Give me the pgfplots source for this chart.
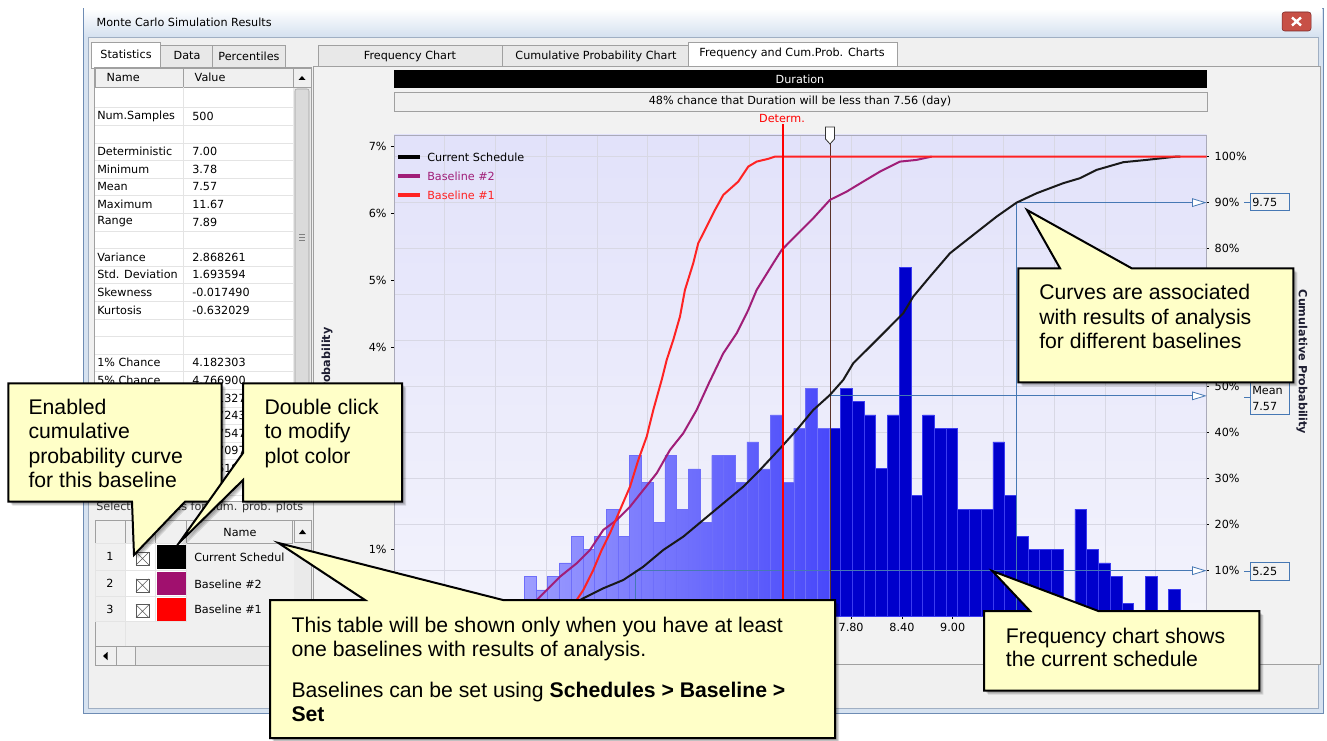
\documentclass[border=0pt]{standalone}
\usepackage{fontspec}
\setmainfont{Liberation Sans}
\newfontfamily\ui{DejaVu Sans}
\usepackage{pgfplots}
\pgfplotsset{compat=1.18}
\usetikzlibrary{arrows.meta}

\definecolor{frameblue}{RGB}{214,226,240}
\definecolor{framedge}{RGB}{110,140,180}
\definecolor{framein}{RGB}{160,175,195}
\definecolor{closered}{RGB}{199,80,70}
\definecolor{closeedge}{RGB}{120,40,40}
\definecolor{winbg}{RGB}{240,240,240}
\definecolor{tabbg}{RGB}{232,232,232}
\definecolor{tabedge}{RGB}{160,160,160}
\definecolor{hdrbg}{RGB}{240,240,240}
\definecolor{cellline}{RGB}{228,228,228}
\definecolor{scrolltrack}{RGB}{234,234,234}
\definecolor{thumbc}{RGB}{218,218,218}
\definecolor{panelbg}{RGB}{242,242,242}
\definecolor{callout}{RGB}{255,255,200}
\definecolor{purp}{RGB}{160,30,120}
\definecolor{swpurp}{RGB}{160,16,110}
\definecolor{redc}{RGB}{255,35,35}
\definecolor{detred}{RGB}{255,0,0}
\definecolor{markblue}{RGB}{70,120,180}
\definecolor{gridc}{RGB}{216,216,228}
\definecolor{darkbar}{RGB}{0,0,204}
\definecolor{darkbaredge}{RGB}{60,60,240}
\definecolor{lightbarL}{RGB}{160,160,255}
\definecolor{lightbarR}{RGB}{72,72,250}
\definecolor{lightbaredge}{RGB}{110,110,250}
\definecolor{bgtop}{RGB}{226,226,250}
\definecolor{bgbot}{RGB}{243,243,252}
\definecolor{brownl}{RGB}{90,50,40}
\definecolor{axisc}{RGB}{170,170,185}
\definecolor{textdark}{RGB}{30,30,50}

\newcommand\uis{\ui\fontsize{8.4pt}{10pt}\selectfont}
\newcommand\uib{\ui\bfseries\fontsize{8.4pt}{10pt}\selectfont}
\newcommand\cof{\fontsize{15.9pt}{18pt}\selectfont}

\newcommand\callout[1]{%
 \fill[black,opacity=0.12,shift={(4,4)}] #1;
 \fill[black,opacity=0.12,shift={(3,3)}] #1;
 \fill[black,opacity=0.12,shift={(2,2)}] #1;
 \filldraw[fill=callout, draw=black, line width=1.5pt, line join=miter, miter limit=25] #1;}

\pgfplotsset{myax/.style={at={(plotSW)}, anchor=south west, scale only axis,
  width=609.5pt, height=361.3pt, xmin=2.4, xmax=12}}

\begin{document}
\begin{tikzpicture}[x=0.75pt,y=-0.75pt]
\useasboundingbox (0,0) rectangle (1327,741);
\fill[white] (0,0) rectangle (1327,741);
% ---------- window ----------
\filldraw[fill=frameblue, draw=framedge] (83,8) rectangle (1323,713);
\shade[top color=white, bottom color=frameblue] (84,9) rectangle (1322,36);
\node[anchor=west, font=\uis] at (92,22) {Monte Carlo Simulation Results};
\filldraw[fill=closered, draw=closeedge, rounded corners=2pt] (1282,12) rectangle (1311,31);
\draw[white, line width=1.8pt] (1292,17.5) -- (1301,25.5) (1301,17.5) -- (1292,25.5);
\filldraw[fill=winbg, draw=framein] (88,37) rectangle (1318,708);
% ---------- left tabs ----------
\filldraw[fill=tabbg, draw=tabedge] (160,45) rectangle (212,67);
\filldraw[fill=tabbg, draw=tabedge] (212,45) rectangle (285,67);
\filldraw[fill=white, draw=tabedge] (91,42) rectangle (160,68);
\node[font=\uis] at (126,54) {Statistics};
\node[font=\uis] at (187,56) {Data};
\node[font=\uis] at (249,56) {Percentiles};
% ---------- statistics table ----------
\filldraw[fill=white, draw=tabedge] (94,67) rectangle (311,501);
\filldraw[fill=hdrbg, draw=tabedge] (95,68) rectangle (183,87);
\filldraw[fill=hdrbg, draw=tabedge] (183,68) rectangle (293,87);
\node[font=\uis, anchor=west] at (102,77.5) {Name};
\node[font=\uis, anchor=west] at (190,77.5) {Value};
\foreach \i in {0,...,22} \draw[cellline] (95,{90+17.6*(\i+1)}) -- (293,{90+17.6*(\i+1)});
\draw[cellline] (183,87) -- (183,501);
\foreach \i/\n/\v in {1/Num.Samples/500, 3/Deterministic/7.00, 4/Minimum/3.78, 5/Mean/7.57,
  6/Maximum/11.67, 7/Range/7.89, 9/Variance/2.868261, 10/Std. Deviation/1.693594,
  11/Skewness/-0.017490, 12/Kurtosis/-0.632029, 15/1\% Chance/4.182303,
  16/5\% Chance/4.766900} {
  \node[font=\uis, anchor=west, inner sep=0pt] at (97,{98.8+17.6*\i}) {\n};
  \node[font=\uis, anchor=west, inner sep=0pt] at (192,{98.8+17.6*\i}) {\v};
}
% values of the rows that the callouts cover (their last digits show between them)
\foreach \i/\v in {17/5.251327, 18/6.077243, 19/6.767547, 20/7.257097, 21/7.686193} {
  \node[font=\uis, anchor=west, inner sep=0pt] at (192,{98.8+17.6*\i}) {\v};
}
\fill[scrolltrack] (293,68) rectangle (311,501);
\filldraw[fill=hdrbg, draw=tabedge] (293,68) rectangle (311,87);
\fill[black] (298.5,80) -- (305.5,80) -- (302,76) -- cycle;
\filldraw[fill=thumbc, draw=tabedge, rounded corners=1.5pt] (295,89) rectangle (309,385);
\foreach \yy in {234,237,240} \draw[gray] (299,\yy) -- (305,\yy);
% ---------- baselines table ----------
\node[font=\uis, anchor=west, inner sep=0pt, text=black!80] at (96,507) {Select baselines for cum. prob. plots};
\filldraw[fill=hdrbg, draw=tabedge] (95,520) rectangle (311,665);
\foreach \a/\b in {95/125.7, 125.7/155.7, 155.7/186.7, 186.7/292}
  \filldraw[fill=hdrbg, draw=tabedge] (\a,520) rectangle (\b,543);
\node[font=\uis] at (240,532) {Name};
\filldraw[fill=hdrbg, draw=tabedge] (294,520) rectangle (311,542);
\fill[black] (299,534) -- (306,534) -- (302.5,529.5) -- cycle;
\fill[scrolltrack] (294,543) rectangle (311,646.7);
\foreach \ya/\yb/\n/\c/\t in {543/570/1/black/Current Schedul, 570.7/596/2/swpurp/Baseline \#2, 596.7/621.7/3/red/Baseline \#1} {
  \filldraw[fill=hdrbg, draw=cellline] (95,\ya) rectangle (125.7,\yb);
  \filldraw[fill=white, draw=cellline] (125.7,\ya) rectangle (155.7,\yb);
  \filldraw[fill=white, draw=cellline] (155.7,\ya) rectangle (186.7,\yb);
  \fill[\c] (157.3,\ya+1.5) rectangle (186,\yb-1);
  \node[font=\uis] at (110,{(\ya+\yb)/2}) {\n};
  \node[font=\uis, anchor=west, inner sep=0pt] at (194,{(\ya+\yb)/2+0.5}) {\t};
  \draw[gray!70!black] (136,{(\ya+\yb)/2-4.5}) rectangle (149,{(\ya+\yb)/2+8.5});
  \draw[gray!70!black] (136,{(\ya+\yb)/2-4.5}) -- (149,{(\ya+\yb)/2+8.5}) (149,{(\ya+\yb)/2-4.5}) -- (136,{(\ya+\yb)/2+8.5});
}
\draw[cellline] (125.7,621.7) -- (125.7,646.7);
\filldraw[fill=scrolltrack, draw=tabedge] (95,646.7) rectangle (311,665);
\filldraw[fill=hdrbg, draw=tabedge] (95,646.7) rectangle (116.7,665);
\fill[black] (103,656) -- (107.5,652) -- (107.5,660) -- cycle;
\filldraw[fill=hdrbg, draw=tabedge] (116.7,646.7) rectangle (135,665);
% ---------- right panel ----------
\filldraw[fill=panelbg, draw=tabedge] (313,66) rectangle (1320,664);
\filldraw[fill=tabbg, draw=tabedge] (318,45) rectangle (502,66);
\filldraw[fill=tabbg, draw=tabedge] (502,45) rectangle (688,66);
\filldraw[fill=white, draw=tabedge] (688,42) rectangle (897,66);
\node[font=\uis] at (410,56) {Frequency Chart};
\node[font=\uis] at (596,56) {Cumulative Probability Chart};
\node[font=\uis] at (792,53) {Frequency and Cum.Prob. Charts};
\fill[black] (394,70) rectangle (1207,88);
\node[font=\uis, text=white] at (800,79) {Duration};
\filldraw[fill=winbg, draw=tabedge] (394,92) rectangle (1207,111);
\node[font=\uis] at (800,101.5) {48\% chance that Duration will be less than 7.56 (day)};
\node[font=\uis, text=detred] at (782,118) {Determ.};
% ---------- chart ----------
\coordinate (plotSW) at (394,616.7);
\begin{axis}[myax, ymin=0, ymax=104.7,
  axis background/.style={top color=bgtop, bottom color=bgbot},
  xtick={3.0,3.6,4.2,4.8,5.4,6.0,6.6,7.2,7.8,8.4,9.0,9.6,10.2,10.8,11.4},
  xticklabels={,,,,,,,,7.80,8.40,9.00,,,,},
  ytick={0,10,...,100},
  yticklabels={0\%,10\%,20\%,30\%,40\%,50\%,,,80\%,90\%,100\%},
  xtick pos=bottom, ytick pos=right, yticklabel pos=right,
  tick align=outside, major tick length=1.5pt,
  grid=major, major grid style={draw=gridc, line width=0.75pt},
  axis line style={draw=axisc},
  every tick/.style={black},
  tick label style={font=\uis},
  yticklabel style={xshift=1pt}]
\end{axis}
\begin{axis}[myax, ymin=0, ymax=7.164,
  xtick=\empty, ytick={1,2,...,7},
  yticklabels={1\%,,,4\%,5\%,6\%,7\%},
  ytick pos=left, tick align=outside, major tick length=2pt,
  axis line style={draw=none}, every tick/.style={black},
  tick label style={font=\uis}]
\addplot[ybar interval, left color=lightbarL, right color=lightbarR, draw=lightbaredge, line width=0.3pt]
 coordinates {(3.800,0.2) (3.938,0.6) (4.077,0.4) (4.215,0.6) (4.354,0.8) (4.492,1.2)
 (4.631,1.0) (4.769,1.2) (4.907,1.6) (5.046,1.2) (5.184,2.4) (5.323,2.0) (5.461,1.4)
 (5.599,2.4) (5.738,1.6) (5.876,2.2) (6.015,1.4) (6.153,2.4) (6.292,2.4) (6.430,2.0)
 (6.568,2.6) (6.707,2.2) (6.845,3.0) (6.984,2.0) (7.122,2.8) (7.261,3.4) (7.399,2.8)
 (7.537,2.8) (7.56,0)};
\addplot[ybar interval, fill=darkbar, draw=darkbaredge, line width=0.5pt]
 coordinates {(7.56,2.8) (7.676,3.4) (7.814,3.2) (7.953,3.0) (8.091,2.2) (8.229,3.0)
 (8.368,5.2) (8.506,1.8) (8.645,3.0) (8.783,2.8) (8.922,2.8) (9.060,1.6) (9.198,1.6)
 (9.337,1.6) (9.475,2.6) (9.614,1.8) (9.752,1.2) (9.890,1.0) (10.029,1.0) (10.167,1.0)
 (10.306,0.2) (10.444,1.6) (10.583,1.0) (10.721,0.8) (10.859,0.6) (10.998,0.2)
 (11.136,0) (11.275,0.6) (11.413,0) (11.552,0.4) (11.690,0)};
\end{axis}
\begin{axis}[myax, ymin=0, ymax=104.7, hide axis, clip=false]
\addplot[draw=markblue, line width=0.6pt, -{Triangle[open, fill=white, length=11pt, width=6.5pt]}]
 coordinates {(9.75,0) (9.75,90) (12,90)};
\addplot[draw=markblue, line width=0.6pt, -{Triangle[open, fill=white, length=11pt, width=6.5pt]}]
 coordinates {(7.56,48) (12,48)};
\addplot[draw=markblue, line width=0.6pt, -{Triangle[open, fill=white, length=11pt, width=6.5pt]}]
 coordinates {(5.25,0) (5.25,10) (12,10)};
\addplot[draw=brownl, line width=0.75pt] coordinates {(7.56,0) (7.56,104.7)};
\addplot[draw=black!90, line width=1.5pt, line join=round] coordinates {
 (3.782,0) (4.125,1.46) (4.597,3.63) (4.872,6.17) (5.109,7.98) (5.345,10.87) (5.581,14.50)
 (5.817,17.39) (6.053,21.02) (6.290,24.65) (6.526,28.26) (6.723,31.89) (6.980,36.96)
 (7.157,40.59) (7.353,44.93) (7.550,48.20) (7.707,51.46) (7.825,55.09) (8.023,58.70)
 (8.220,62.33) (8.416,65.96) (8.534,69.57) (8.731,73.91) (8.968,79.00) (9.243,82.98)
 (9.519,86.96) (9.755,90.00) (9.992,92.04) (10.306,94.22) (10.503,95.30) (10.700,97.11)
 (11.015,98.78) (11.291,99.28) (11.645,100) (11.69,100)};
\addplot[draw=purp, line width=1.5pt, line join=round] coordinates {
 (3.829,0) (3.959,1.67) (4.086,3.63) (4.204,5.80) (4.361,8.70) (4.558,11.61) (4.715,14.50)
 (4.872,18.85) (5.031,21.02) (5.188,23.91) (5.345,27.54) (5.503,31.17) (5.660,36.24)
 (5.817,39.87) (5.975,44.93) (6.121,50.80) (6.290,57.26) (6.448,61.61) (6.585,66.67)
 (6.684,71.02) (6.880,76.83) (6.980,79.72) (7.176,83.35) (7.353,86.61) (7.550,90.59)
 (7.747,92.39) (7.943,94.57) (8.141,96.74) (8.377,98.91) (8.574,99.28) (8.751,100)};
\addplot[draw=redc, line width=1.5pt, line join=round] coordinates {
 (4.219,0) (4.420,1.67) (4.558,3.63) (4.636,5.80) (4.754,10.15) (4.853,14.50) (4.951,18.13)
 (5.070,23.20) (5.188,28.26) (5.286,34.07) (5.385,39.13) (5.463,44.93) (5.562,51.46)
 (5.621,55.80) (5.699,60.15) (5.778,65.22) (5.837,71.02) (5.935,76.83) (5.994,81.17)
 (6.113,85.52) (6.192,88.41) (6.290,91.67) (6.467,94.57) (6.585,97.83) (6.684,98.91)
 (6.818,99.5) (6.900,100) (12,100)};
\addplot[draw=detred, line width=1.4pt] coordinates {(7,0) (7,107.1)};
\end{axis}
% slider marker
\filldraw[fill=white, draw=black!80, line width=0.6pt] (825.5,127) -- (834.5,127) -- (834.5,139) -- (830,144) -- (825.5,139) -- cycle;
% legend
\draw[black, line width=3pt] (398,157) -- (420,157);
\draw[purp, line width=3pt] (398,176) -- (420,176);
\draw[redc, line width=3pt] (398,195) -- (420,195);
\node[font=\uis, anchor=west, inner sep=0pt] at (427,157) {Current Schedule};
\node[font=\uis, anchor=west, inner sep=0pt, text=purp] at (427,176) {Baseline \#2};
\node[font=\uis, anchor=west, inner sep=0pt, text=redc] at (427,195) {Baseline \#1};
% value boxes
\draw[markblue, line width=0.75pt] (1250,193.5) rectangle (1289,211);
\draw[markblue] (1244,202) -- (1250,202);
\node[font=\uis, anchor=west, inner sep=0pt] at (1252,202.5) {9.75};
\draw[markblue, line width=0.75pt] (1250,381) rectangle (1289,414);
\draw[markblue] (1244,397) -- (1250,397);
\node[font=\uis, anchor=west, inner sep=0pt] at (1252,390) {Mean};
\node[font=\uis, anchor=west, inner sep=0pt] at (1252,406) {7.57};
\draw[markblue, line width=0.75pt] (1250,562) rectangle (1289,580);
\draw[markblue] (1244,571) -- (1250,571);
\node[font=\uis, anchor=west, inner sep=0pt] at (1252,571.5) {5.25};
% axis titles
\node[font=\uib, text=textdark, rotate=-90] at (1302,362) {Cumulative Probability};
\node[font=\uib, text=textdark, rotate=90] at (327,362) {Probability};
% ---------- callouts ----------
\callout{(8.3,383.3) -- (221.7,383.3) -- (221.7,501.7) -- (185,501.7) -- (134,555) -- (132,501.7) -- (8.3,501.7) -- cycle}
\callout{(243,383.3) -- (402,383.3) -- (402,501.7) -- (243,501.7) -- (243,480) -- (179,543) -- (243,453) -- cycle}
\callout{(1018.3,268.3) -- (1060,268.3) -- (1027,210) -- (1131.7,268.3) -- (1293.3,268.3) -- (1293.3,382.3) -- (1018.3,382.3) -- cycle}
\callout{(270,600) -- (365,600) -- (278.5,543) -- (503,600) -- (835,600) -- (835,738) -- (270,738) -- cycle}
\callout{(984,611) -- (1030,611) -- (992.3,571) -- (1098.3,611) -- (1259.3,611) -- (1259.3,690.7) -- (984,690.7) -- cycle}
\begin{scope}[every node/.style={font=\cof, anchor=base west, inner sep=0pt}]
\node at (28.3,414) {Enabled};
\node at (28.3,438.5) {cumulative};
\node at (28.3,463) {probability curve};
\node at (28.3,487) {for this baseline};
\node at (264.3,414) {Double click};
\node at (264.3,438.5) {to modify};
\node at (264.3,463) {plot color};
\node at (1039,300) {Curves are associated};
\node at (1039,324.5) {with results of analysis};
\node at (1039,349) {for different baselines};
\node at (291.3,632.5) {This table will be shown only when you have at least};
\node at (291.3,656) {one baselines with results of analysis.};
\node at (291.3,697.5) {Baselines can be set using \textbf{Schedules > Baseline >}};
\node at (291.3,721) {\textbf{Set}};
\node at (1005.7,643.5) {Frequency chart shows};
\node at (1005.7,666) {the current schedule};
\end{scope}
\end{tikzpicture}
\end{document}
